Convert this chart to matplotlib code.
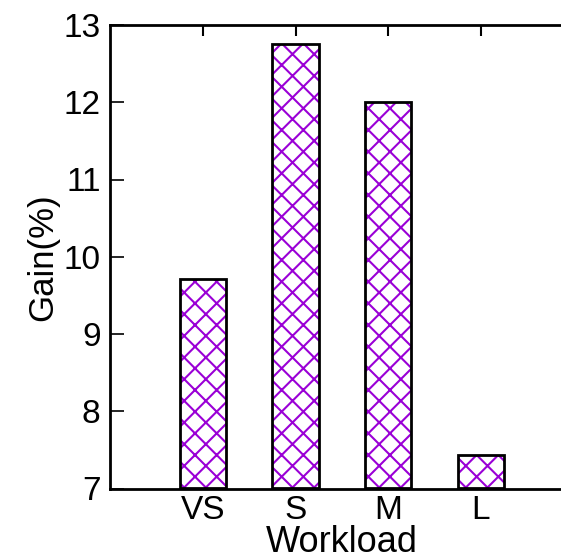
import matplotlib
matplotlib.use("Agg")
import matplotlib.pyplot as plt
import matplotlib.transforms as mtransforms

DPI = 130
S = 100 / DPI  # keep sizes in pixels identical to a 100-dpi layout

plt.rcParams['font.family'] = ['Liberation Sans', 'DejaVu Sans']
plt.rcParams['hatch.linewidth'] = 1.5 * S

workloads = ["VS", "S", "M", "L"]
gain = [9.71, 12.76, 12.0, 7.43]
hatch_color = '#9a00d6'

fig = plt.figure(figsize=(561 / DPI, 559 / DPI), dpi=DPI)
ax = fig.add_axes([110.3 / 561, 70.5 / 559, 463 / 561, 463.5 / 559])

pos = list(range(1, len(workloads) + 1))
heights = [g - 7 for g in gain]
# hatched fill
ax.bar(pos, heights, bottom=7, width=0.5, color='white',
       edgecolor=hatch_color, linewidth=0, hatch='xx', zorder=2)
# black outline on top
ax.bar(pos, heights, bottom=7, width=0.5, fill=False,
       edgecolor='black', linewidth=2.0 * S, zorder=3)

ax.set_xlim(0, 5)
ax.set_ylim(7, 13)
ax.set_xticks(pos)
ax.set_xticklabels(workloads)
ax.set_yticks(range(7, 14))

for s in ax.spines.values():
    s.set_linewidth(2.0 * S)

ax.tick_params(axis='x', direction='in', length=8 * S, width=1.5 * S, top=True,
               labelsize=24 * S, pad=5 * S)
ax.tick_params(axis='y', direction='in', length=10 * S, width=1.2 * S, right=False,
               labelsize=24 * S, pad=7 * S)

ax.set_xlabel("Workload", fontsize=26 * S, va='baseline')
# baseline of the axis title sits a few pixels above the bottom edge
ax.xaxis.set_label_coords(
    0.5, 7.5 / 559,
    transform=mtransforms.blended_transform_factory(ax.transAxes, fig.transFigure))
ax.set_ylabel("Gain(%)", fontsize=25 * S, labelpad=3 * S)

fig.savefig("out.png", dpi=DPI)
